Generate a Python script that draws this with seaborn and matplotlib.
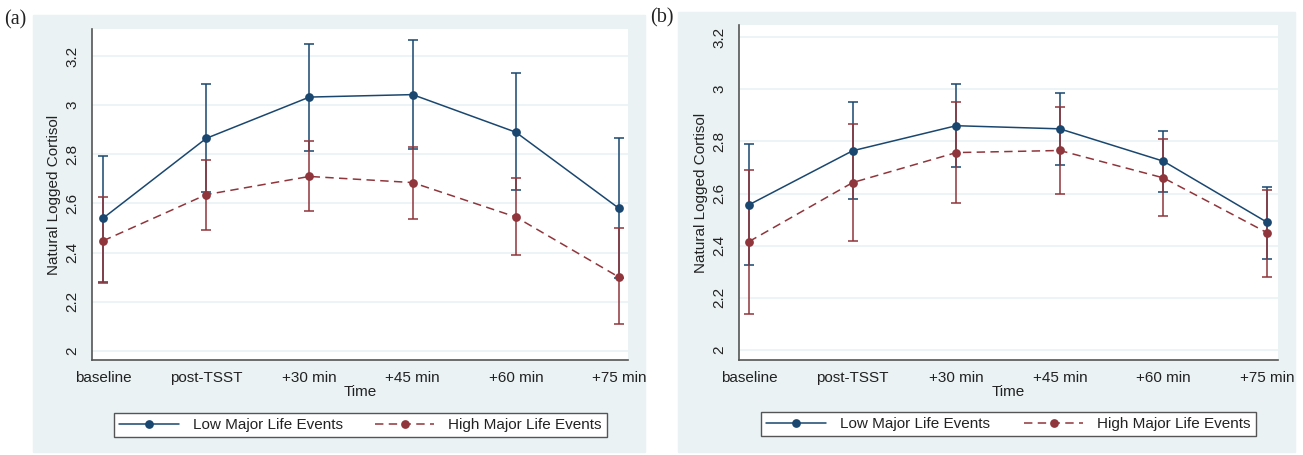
import matplotlib
matplotlib.use("Agg")
import matplotlib.pyplot as plt
from matplotlib.patches import Rectangle
import pandas as pd
import seaborn as sns

# time points
categories = ["baseline", "post-TSST", "+30 min", "+45 min", "+60 min", "+75 min"]
groups = ["Low Major Life Events", "High Major Life Events"]

# panel (a)
a_low_mean = [2.54, 2.865, 3.033, 3.043, 2.89, 2.58]
a_low_lo = [2.28, 2.645, 2.815, 2.82, 2.655, 2.295]
a_low_hi = [2.795, 3.087, 3.25, 3.265, 3.13, 2.865]
a_high_mean = [2.448, 2.636, 2.71, 2.685, 2.545, 2.30]
a_high_lo = [2.276, 2.49, 2.569, 2.535, 2.39, 2.11]
a_high_hi = [2.625, 2.776, 2.856, 2.83, 2.705, 2.50]

# panel (b)
b_low_mean = [2.557, 2.764, 2.86, 2.848, 2.724, 2.49]
b_low_lo = [2.327, 2.58, 2.70, 2.71, 2.605, 2.35]
b_low_hi = [2.788, 2.95, 3.02, 2.985, 2.84, 2.625]
b_high_mean = [2.416, 2.642, 2.757, 2.765, 2.66, 2.45]
b_high_lo = [2.14, 2.42, 2.565, 2.60, 2.515, 2.28]
b_high_hi = [2.692, 2.865, 2.95, 2.93, 2.81, 2.615]

yticks = [2, 2.2, 2.4, 2.6, 2.8, 3, 3.2]
ytick_labels = ["2", "2.2", "2.4", "2.6", "2.8", "3", "3.2"]

NAVY = "#1A476F"
MAROON = "#90353B"
BG = "#EAF2F3"
TXT = "#222222"

sns.set_style("white")
plt.rcParams["font.family"] = ["Liberation Sans", "DejaVu Sans"]

fig = plt.figure(figsize=(13.03, 4.55), dpi=100)
W, H = 1303, 455


def fx(px):
    return px / W


def fy(py):
    return 1 - py / H


def panel(bg_box, ax_box, leg_box, xlim, ylim, low, high, tag, tag_pos):
    # light blue-grey graph region
    x0, y0, x1, y1 = bg_box
    fig.patches.append(Rectangle((fx(x0), fy(y1)), fx(x1 - x0), (y1 - y0) / H,
                                 transform=fig.transFigure, color=BG, zorder=-10))
    l, t, r, b = ax_box
    ax = fig.add_axes([fx(l), fy(b), fx(r - l), (b - t) / H])
    ax.set_facecolor("white")

    rows = []
    for g, (m, lo, hi) in zip(groups, [low, high]):
        for i, c in enumerate(categories):
            rows.append({"pos": i, "time": c, "group": g, "mean": m[i], "lo": lo[i], "hi": hi[i]})
    df = pd.DataFrame(rows)

    for g, col in zip(groups, [NAVY, MAROON]):
        d = df[df.group == g]
        ax.errorbar(d["pos"], d["mean"], yerr=[d["mean"] - d["lo"], d["hi"] - d["mean"]],
                    fmt="none", ecolor=col, elinewidth=1.1, capsize=3.6, capthick=1.1, zorder=3)

    sns.lineplot(data=df, x="pos", y="mean", hue="group", style="group",
                 hue_order=groups, style_order=groups,
                 palette={groups[0]: NAVY, groups[1]: MAROON},
                 dashes={groups[0]: "", groups[1]: (5.5, 3.5)},
                 markers={groups[0]: "o", groups[1]: "o"},
                 markersize=6.3, markeredgewidth=0, linewidth=1.1,
                 ax=ax, zorder=4)

    ax.set_xlim(*xlim)
    ax.set_ylim(*ylim)
    ax.set_xticks(range(len(categories)))
    ax.set_xticklabels(categories, fontsize=11, color=TXT)
    ax.set_yticks(yticks)
    ax.set_yticklabels(ytick_labels, fontsize=11, color=TXT, rotation=90, va="center")
    ax.yaxis.grid(True, color=BG, linewidth=1.2)
    ax.xaxis.grid(False)
    for s in ["top", "right"]:
        ax.spines[s].set_visible(False)
    for s in ["left", "bottom"]:
        ax.spines[s].set_color("#555555")
        ax.spines[s].set_linewidth(1.2)
    ax.tick_params(axis="both", direction="out", length=4, width=1, color="#555555")
    ax.tick_params(axis="x", pad=4)
    ax.tick_params(axis="y", pad=5)
    ax.set_xlabel("Time", fontsize=11, color=TXT, labelpad=0)
    ax.set_ylabel("Natural Logged Cortisol", fontsize=11, color=TXT, labelpad=3)

    handles, labels = ax.get_legend_handles_labels()
    for h in handles:
        h.set_markersize(6.3)
    lx0, ly0, lx1, ly1 = leg_box
    leg = ax.legend(handles, labels, ncol=2, loc="center", mode="expand",
                    bbox_to_anchor=(fx(lx0), fy(ly1), fx(lx1 - lx0), (ly1 - ly0) / H),
                    bbox_transform=fig.transFigure, borderaxespad=0,
                    fontsize=11, handlelength=3.9, handletextpad=0.9, numpoints=1,
                    frameon=True, fancybox=False, edgecolor="#555555", framealpha=1,
                    borderpad=0.35)
    leg.get_frame().set_linewidth(1.0)
    for txt in leg.get_texts():
        txt.set_color(TXT)

    fig.text(fx(tag_pos[0]), fy(tag_pos[1]), tag, fontsize=14.5, color=TXT,
             family=["Liberation Serif", "DejaVu Serif"], ha="left", va="center")
    return ax


panel((33, 15, 645, 452), (92, 29, 628, 360), (114, 411, 607, 439),
      (-0.107, 5.087), (1.963, 3.31),
      (a_low_mean, a_low_lo, a_low_hi), (a_high_mean, a_high_lo, a_high_hi),
      "(a)", (4, 20))
panel((678, 12, 1295, 452), (739, 25, 1278, 360), (761, 410, 1256, 438),
      (-0.097, 5.106), (1.962, 3.246),
      (b_low_mean, b_low_lo, b_low_hi), (b_high_mean, b_high_lo, b_high_hi),
      "(b)", (650, 18))

plt.savefig("out.png", dpi=100)
plt.close()
